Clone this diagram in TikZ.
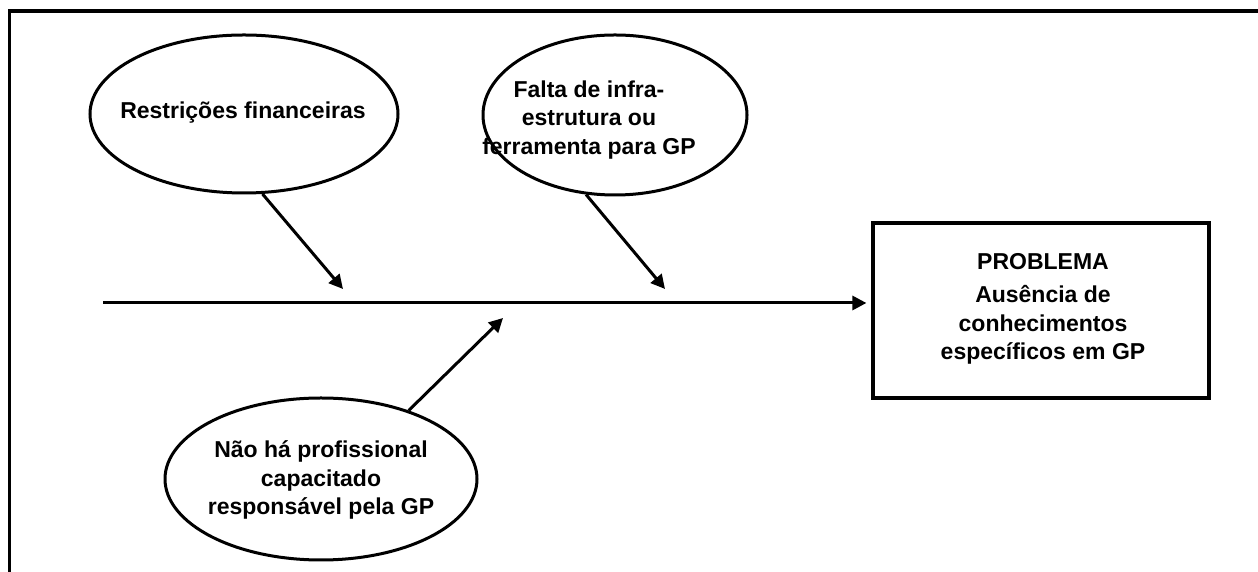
\documentclass[tikz,border=0pt]{standalone}
\usepackage{fontspec}
\setmainfont{Liberation Sans}
\usetikzlibrary{shapes.geometric,arrows.meta}
\tikzset{
  cause/.style={draw, ellipse, line width=3pt, inner sep=0pt},
  txt/.style={align=center, inner sep=0pt, font=\fontsize{23}{28.5}\selectfont\bfseries},
  probbox/.style={draw, rectangle, line width=3.2pt, inner sep=0pt},
  arr/.style={line width=3pt, -{Triangle[length=14pt,width=14pt]}},
  frameline/.style={line width=3.5pt}
}
\begin{document}
\begin{tikzpicture}[x=1pt,y=1pt]
\useasboundingbox (0,0) rectangle (1258,572);
% frame
\coordinate (fTL) at (9.5,561);
\coordinate (fTR) at (1260,561);
\coordinate (fBL) at (9.5,-2);
\draw[frameline] (fTR) -- (fTL) -- (fBL);
% causes
\node[cause, minimum width=308pt, minimum height=158pt] (e1) at (244,458) {};
\node[txt] (e1t) at (243,459) {Restrições financeiras};
\node[cause, minimum width=264pt, minimum height=160pt] (e2) at (615,457) {};
\node[txt] (e2t) at (589,452) {Falta de infra-\\estrutura ou\\ferramenta para GP};
\node[cause, minimum width=312pt, minimum height=162pt] (e3) at (321,93) {};
\node[txt] (e3t) at (321,92) {Não há profissional\\capacitado\\responsável pela GP};
% problem
\node[probbox, minimum width=336pt, minimum height=175pt] (box) at (1041,261.5) {};
\node[txt] (pt) at (1043,310) {PROBLEMA};
\node[txt] (pd) at (1043,247) {Ausência de\\conhecimentos\\específicos em GP};
% spine
\coordinate (spine) at (103,269);
\draw[arr, shorten >=5pt] (spine) -- (spine -| box.west);
% arrows
\coordinate (t1) at (343,283);
\coordinate (t2) at (665,283);
\coordinate (t3) at (503,254);
\draw[arr] (e1.-77) -- (t1);
\draw[arr] (e2.-110) -- (t2);
\draw[arr] (e3.38) -- (t3);
\end{tikzpicture}
\end{document}
